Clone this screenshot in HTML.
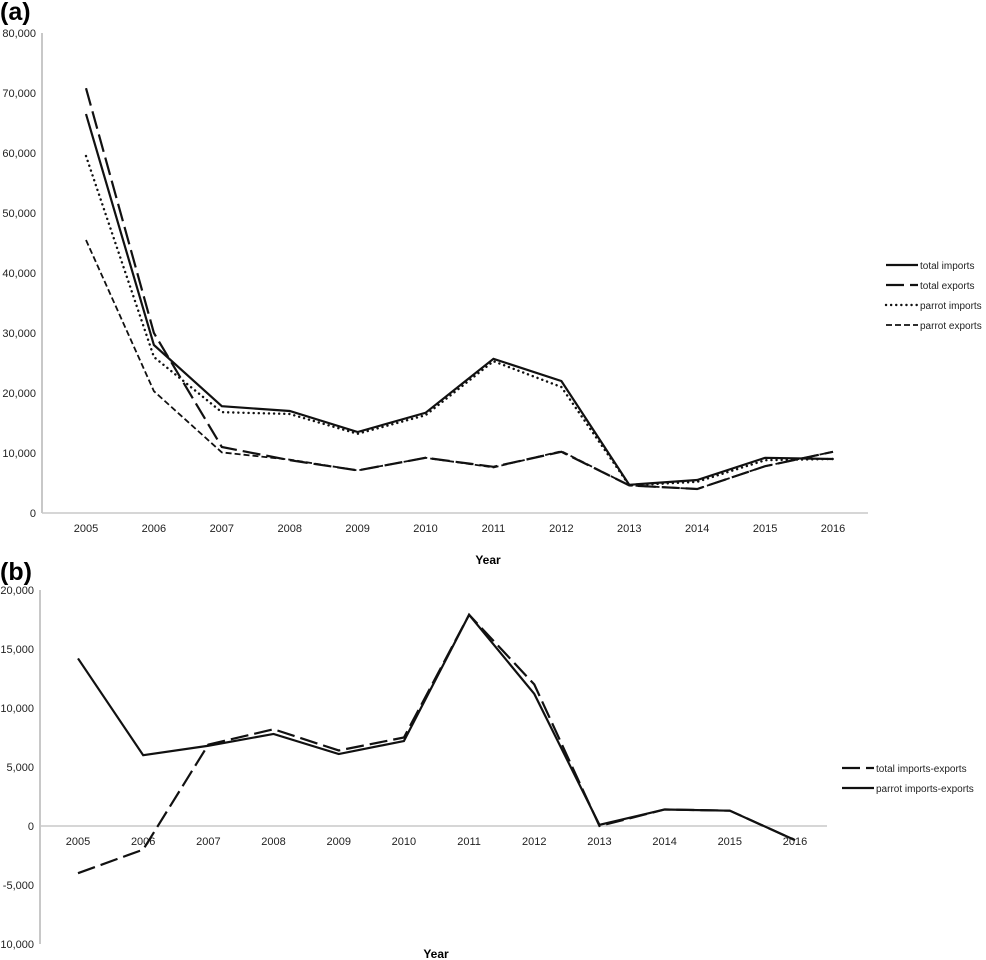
<!DOCTYPE html>
<html><head><meta charset="utf-8"><style>
body{margin:0;background:#fff;}
svg{display:block;font-family:"Liberation Sans",sans-serif;}
</style></head><body>
<svg id="c" width="986" height="960"></svg>
<script>
const years=["2005","2006","2007","2008","2009","2010","2011","2012","2013","2014","2015","2016"];
const totalImports=[66500,28000,17800,17000,13500,16700,25700,22000,4700,5500,9200,9000];
const totalExports=[70800,30000,11000,8800,7100,9200,7700,10200,4600,4000,7800,10200];
const parrotImports=[59500,26000,16800,16500,13200,16300,25300,21000,4600,5200,8800,9000];
const parrotExports=[45500,20300,10100,8900,7100,9200,7600,10300,4600,4000,7800,10200];
const totalNet=[-4000,-2000,6900,8200,6400,7500,17900,12000,0,1400,1300,-1200];
const parrotNet=[14200,6000,6800,7800,6100,7200,17900,11200,100,1400,1300,-1200];
const ticksA=[0,10000,20000,30000,40000,50000,60000,70000,80000];
const ticksB=[-10000,-5000,0,5000,10000,15000,20000];
const NS="http://www.w3.org/2000/svg";
const svg=document.getElementById('c');
function mk(t,a,txt){const e=document.createElementNS(NS,t);for(const k in a)e.setAttribute(k,a[k]);if(txt!==undefined)e.textContent=txt;svg.appendChild(e);return e;}
const fmt=v=>v.toLocaleString('en-US');
function panel(o){
  const sx=i=>o.x0+i*(o.x1-o.x0)/(years.length-1);
  const sy=v=>o.yZero-(v)*o.k;
  let e=mk('text',{x:0,y:o.labelY,'font-size':25,'font-weight':'bold'},o.label);
  
  
  e=mk('line',{x1:o.axX,x2:o.axX,y1:sy(o.ticks[o.ticks.length-1]),y2:sy(o.ticks[0]),stroke:'#c8c8c8','stroke-width':2});
  
  
  o.ticks.forEach(t=>{
    const tt=mk('text',{x:o.axX-6,y:sy(t)+4,'font-size':11,'text-anchor':'end',fill:'#222'},fmt(t));
    
    
  });
  e=mk('line',{x1:o.axX,x2:o.xEnd,y1:sy(0),y2:sy(0),stroke:'#c8c8c8','stroke-width':1.5});
  
  
  years.forEach((y,i)=>{
    const tt=mk('text',{x:sx(i),y:sy(0)+o.tickDy,'font-size':11,'text-anchor':'middle',fill:'#222'},y);
    
    
  });
  e=mk('text',{x:o.titleX,y:o.titleY,'font-size':12,'font-weight':'bold','text-anchor':'middle'},'Year');
  
  
  o.series.forEach((s,j)=>{
    const p=mk('polyline',{points:s.data.map((v,i)=>sx(i)+','+sy(v)).join(' '),fill:'none',stroke:'#111','stroke-width':s.w,'stroke-dasharray':s.dash,'stroke-linecap':s.cap||'butt'});
    
    
    const ly=o.legY+j*20;
    const l=mk('line',{x1:o.legX,x2:o.legX+32,y1:ly,y2:ly,stroke:'#111','stroke-width':s.w,'stroke-dasharray':s.legDash||s.dash,'stroke-linecap':s.cap||'butt'});
    
    
    const t=mk('text',{x:o.legX+34,y:ly+4,'font-size':10,fill:'#222'},s.label);
    
    
  });
}
panel({id:'a',label:'(a)',labelY:20,x0:86,x1:833,axX:42,xEnd:868,yZero:513,k:60/10000,ticks:ticksA,tickDy:19,titleX:488,titleY:564,legX:886,legY:265,
 series:[
  {name:'total-imports',label:'total imports',data:totalImports,w:2.2,dash:'none'},
  {name:'total-exports',label:'total exports',data:totalExports,w:2.2,dash:'18 6',legDash:'18 6'},
  {name:'parrot-imports',label:'parrot imports',data:parrotImports,w:2.4,dash:'0.1 5',cap:'round'},
  {name:'parrot-exports',label:'parrot exports',data:parrotExports,w:1.8,dash:'6 3'}
 ]});
panel({id:'b',label:'(b)',labelY:580,x0:78,x1:795,axX:40,xEnd:827,yZero:826,k:118/10000,ticks:ticksB,tickDy:19,titleX:436,titleY:958,legX:842,legY:768,
 series:[
  {name:'total-imports-exports',label:'total imports-exports',data:totalNet,w:2.2,dash:'18 6',legDash:'18 6'},
  {name:'parrot-imports-exports',label:'parrot imports-exports',data:parrotNet,w:2.2,dash:'none'}
 ]});
</script>
</body></html>
